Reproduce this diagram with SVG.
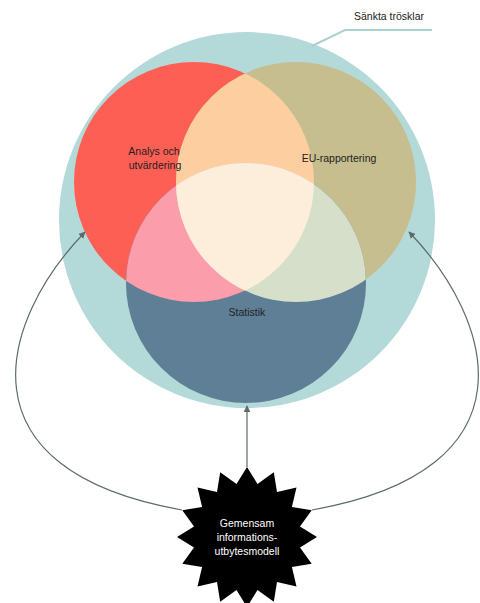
<svg xmlns="http://www.w3.org/2000/svg" width="480" height="603" viewBox="0 0 480 603">
<style>
.lbl{font-family:"Liberation Sans",Arial,sans-serif;font-size:10.5px;fill:#222;text-anchor:middle}
.wl{font-family:"Liberation Sans",Arial,sans-serif;font-size:10.5px;fill:#fff;text-anchor:middle}
.conn{fill:none;stroke:#5E6A6C;stroke-width:1.2}
</style>
<defs>
<marker id="arr" viewBox="0 0 10 10" refX="9" refY="5" markerWidth="7" markerHeight="7" orient="auto" markerUnits="userSpaceOnUse">
<path d="M0,0 L10,5 L0,10 z" fill="#5E6A6C"/>
</marker>
<clipPath id="cRed"><circle cx="194" cy="182" r="120"/></clipPath>
<clipPath id="cTan"><circle cx="296" cy="182" r="120"/></clipPath>
<clipPath id="cBlue"><circle cx="246" cy="283" r="120"/></clipPath>
</defs>
<g id="outer">
<circle cx="247" cy="220" r="188" fill="#B3D9D8"/>
</g>
<g id="leader">
<polyline points="432,30 345,30 312,46" fill="none" stroke="#A9D3D1" stroke-width="2"/>
<text x="389" y="20" class="lbl">Sänkta trösklar</text>
</g>
<g id="analys"><circle cx="194" cy="182" r="120" fill="#FE5F55"/></g>
<g id="eu"><circle cx="296" cy="182" r="120" fill="#C6BE8E"/></g>
<g id="statistik"><circle cx="246" cy="283" r="120" fill="#5F7F97"/></g>
<g id="overlaps">
<circle cx="296" cy="182" r="120" fill="#FDCE9F" clip-path="url(#cRed)"/>
<circle cx="246" cy="283" r="120" fill="#FB9DAA" clip-path="url(#cRed)"/>
<circle cx="246" cy="283" r="120" fill="#D6DFC9" clip-path="url(#cTan)"/>
<g clip-path="url(#cRed)"><circle cx="246" cy="283" r="120" fill="#FDEEDB" clip-path="url(#cTan)"/></g>
</g>
<g id="labels">
<text x="154" y="155" class="lbl">Analys och</text>
<text x="155" y="169" class="lbl">utvärdering</text>
<text x="339" y="162" class="lbl">EU-rapportering</text>
<text x="247" y="316" class="lbl">Statistik</text>
</g>
<g id="connectors">
<path class="conn" d="M247,467 L247,406" marker-end="url(#arr)"/>
<path class="conn" d="M182,510 C-45,470 0,320 85,232" marker-end="url(#arr)"/>
<path class="conn" d="M312,510 C539,470 494,320 409,232" marker-end="url(#arr)"/>
</g>
<g id="model">
<polygon fill="#000" points="247,467 257.5,484 273.8,472.3 277,492.1 296.5,487.5 291.9,507 311.7,510.2 300,526.5 317,537 300,547.5 311.7,563.8 291.9,567 296.5,586.5 277,581.9 273.8,601.7 257.5,590 247,607 236.5,590 220.2,601.7 217,581.9 197.5,586.5 202.1,567 182.3,563.8 194,547.5 177,537 194,526.5 182.3,510.2 202.1,507 197.5,487.5 217,492.1 220.2,472.3 236.5,484"/>
<text x="247" y="527" class="wl">Gemensam</text>
<text x="247" y="541" class="wl">informations-</text>
<text x="247" y="555" class="wl">utbytesmodell</text>
</g>
</svg>
